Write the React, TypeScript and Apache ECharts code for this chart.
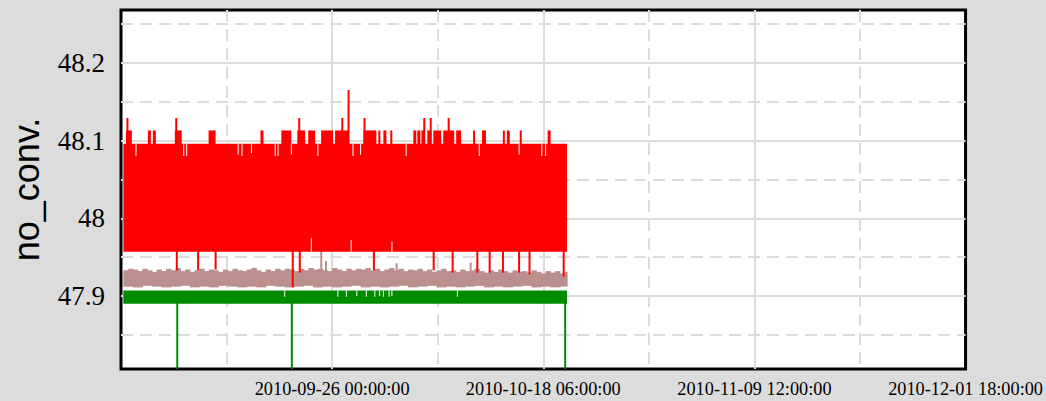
import React, { useEffect, useRef } from "react";
import * as echarts from "echarts";

const DAY = 86400000;
// time axis (UTC)
const xMin = Date.UTC(2010, 8, 3, 18, 0, 0);
const xMax = Date.UTC(2010, 11, 1, 18, 0, 0);
const xInterval = 22.25 * DAY;
const yMin = 47.806;
const yMax = 48.268;

// data start, offsets below are in days from this moment
const dataStart = Date.UTC(2010, 8, 4, 0, 0, 0);
const dataEndDay = 46.75;

// red series envelope
const redRange = [47.957, 48.096];
// [startDay, endDay, value] plateaus above the envelope
const redUpSteps: [number, number, number][] = [
  [0.27, 0.9, 48.113], [2.58, 2.9, 48.113], [3.11, 3.42, 48.113], [5.42, 6.15, 48.113],
  [8.98, 9.72, 48.113], [14.45, 14.76, 48.113], [16.65, 17.7, 48.113], [18.33, 19.16, 48.113],
  [19.48, 20.21, 48.113], [20.84, 22.1, 48.113], [22.31, 23.68, 48.113], [25.3, 26.66, 48.113],
  [26.87, 27.08, 48.113], [27.4, 27.72, 48.113], [28.13, 28.34, 48.113], [30.56, 30.87, 48.113],
  [30.98, 31.3, 48.113], [31.41, 31.72, 48.113], [32.03, 32.45, 48.113], [32.66, 33.5, 48.113],
  [33.71, 34.86, 48.113], [35.07, 35.59, 48.113], [36.85, 37.06, 48.113], [37.79, 38.21, 48.113],
  [39.99, 40.2, 48.113], [40.41, 40.72, 48.113], [41.77, 41.98, 48.113], [44.71, 45.02, 48.113],
];
// [day, value] single upward spikes
const redUpSpikes: [number, number][] = [
  [0.43, 48.129], [5.57, 48.129], [18.53, 48.129], [23.07, 48.129], [23.73, 48.165],
  [25.41, 48.129], [31.71, 48.129], [32.39, 48.129], [34.28, 48.129],
];
// [day, value] single downward spikes
const redDownSpikes: [number, number][] = [
  [5.63, 47.933], [7.88, 47.933], [9.72, 47.934], [17.85, 47.911], [18.59, 47.93],
  [26.4, 47.933], [32.7, 47.933], [34.7, 47.93], [37.3, 47.93], [38.6, 47.93],
  [40.0, 47.93], [41.7, 47.93], [42.8, 47.928], [46.4, 47.925],
];
// [day, value] places where the red top stays lower
const redTopDips: [number, number][] = [
  [1.33, 48.08], [6.36, 48.08], [6.67, 48.08], [12.1, 48.082], [12.5, 48.08], [13.5, 48.084],
  [16.0, 48.08], [16.3, 48.08], [17.7, 48.082], [20.5, 48.08], [24.2, 48.08], [25.0, 48.082],
  [29.8, 48.08], [37.5, 48.08], [41.7, 48.082], [44.1, 48.08], [44.5, 48.08],
];
// [day, value] places where the red bottom stays higher
const redBottomDips: [number, number][] = [[19.8, 47.975], [24.0, 47.972], [28.3, 47.97]];

// brown series: top edge every half day, bottom edge every day
const brownTop = [
  47.933, 47.935, 47.934, 47.932, 47.935, 47.933, 47.931, 47.934, 47.932, 47.935,
  47.933, 47.936, 47.932, 47.934, 47.931, 47.933, 47.935, 47.932, 47.934, 47.933,
  47.931, 47.934, 47.932, 47.935, 47.933, 47.932, 47.934, 47.936, 47.933, 47.931,
  47.934, 47.932, 47.935, 47.933, 47.935, 47.934, 47.932, 47.935, 47.933, 47.936,
  47.934, 47.935, 47.933, 47.932, 47.936, 47.934, 47.932, 47.935, 47.933, 47.935,
  47.934, 47.936, 47.933, 47.935, 47.932, 47.934, 47.936, 47.933, 47.935, 47.932,
  47.934, 47.933, 47.935, 47.932, 47.934, 47.931, 47.933, 47.935, 47.932, 47.933,
  47.931, 47.934, 47.932, 47.933, 47.935, 47.932, 47.930, 47.933, 47.931, 47.934,
  47.932, 47.930, 47.933, 47.931, 47.932, 47.930, 47.933, 47.931, 47.929, 47.932,
  47.930, 47.932, 47.929, 47.931,
];
const brownBottom = [
  47.912, 47.911, 47.913, 47.912, 47.911, 47.912, 47.913, 47.911, 47.912, 47.911,
  47.913, 47.912, 47.911, 47.912, 47.911, 47.913, 47.912, 47.911, 47.912, 47.913,
  47.911, 47.912, 47.911, 47.912, 47.913, 47.911, 47.912, 47.911, 47.912, 47.913,
  47.911, 47.912, 47.913, 47.911, 47.912, 47.911, 47.912, 47.913, 47.911, 47.912,
  47.911, 47.912, 47.913, 47.911, 47.912, 47.911, 47.912,
];
const brownUpSpikes: [number, number][] = [
  [20.85, 47.96], [21.35, 47.945], [28.8, 47.942], [36.6, 47.943],
];

// green series envelope
const greenRange = [47.89, 47.907];
const greenDownSpikes: [number, number][] = [[5.68, 47.7], [17.75, 47.7], [46.56, 47.7]];
const greenTopDips: [number, number][] = [
  [17.0, 47.899], [22.6, 47.899], [23.5, 47.899], [24.6, 47.9], [25.6, 47.899],
  [26.5, 47.899], [27.0, 47.9], [27.4, 47.899], [28.0, 47.899], [28.3, 47.9], [35.2, 47.899],
];

const BG = "#dcdcdc";
const GRIDC = "#dcdcdc";
const RED = "#ff0000";
const BROWN = "#bc8f8f";
const GREEN = "#008b00";
const SERIF = "'Liberation Serif', 'Times New Roman', serif";
const SANS = "'Liberation Sans', Arial, sans-serif";

const t = (d: number) => dataStart + d * DAY;
const pad2 = (n: number) => (n < 10 ? "0" + n : "" + n);
const fmtDate = (v: number) => {
  const d = new Date(v);
  return (
    d.getUTCFullYear() + "-" + pad2(d.getUTCMonth() + 1) + "-" + pad2(d.getUTCDate()) + " " +
    pad2(d.getUTCHours()) + ":" + pad2(d.getUTCMinutes()) + ":" + pad2(d.getUTCSeconds())
  );
};

const makeRender = (color: string, minW: number, extra: number) => (params: any, api: any) => {
  const a = api.coord([api.value(0), api.value(3)]);
  const b = api.coord([api.value(1), api.value(2)]);
  const cs = params.coordSys;
  let x0 = Math.min(a[0], b[0]);
  let x1 = Math.max(a[0], b[0]) + extra;
  if (x1 - x0 < minW) {
    const c = (x0 + x1) / 2;
    x0 = c - minW / 2;
    x1 = c + minW / 2;
  }
  const y0 = Math.max(Math.min(a[1], b[1]), cs.y);
  const y1 = Math.min(Math.max(a[1], b[1]), cs.y + cs.height);
  return {
    type: "rect",
    shape: { x: x0, y: y0, width: x1 - x0, height: Math.max(0, y1 - y0) },
    style: { fill: color },
  };
};

const custom = (data: number[][], color: string, minW: number, extra = 0) => ({
  type: "custom",
  renderItem: makeRender(color, minW, extra),
  encode: { x: [0, 1], y: [2, 3] },
  data,
  silent: true,
});

export default function App() {
  const ref = useRef<HTMLDivElement>(null);
  useEffect(() => {
    if (!ref.current) return;
    const chart = echarts.init(ref.current, undefined, { renderer: "svg" });

    const redBand = [[t(0), t(dataEndDay), redRange[0], redRange[1]]];
    const redSteps = redUpSteps.map(([a, b, v]) => [t(a), t(b), redRange[1] - 0.002, v]);
    const redUp = redUpSpikes.map(([d, v]) => [t(d), t(d), redRange[1] - 0.002, v]);
    const redDown = redDownSpikes.map(([d, v]) => [t(d), t(d), v, redRange[0] + 0.002]);
    const redTopW = redTopDips.map(([d, v]) => [t(d), t(d), v, redRange[1]]);
    const redBotW = redBottomDips.map(([d, v]) => [t(d), t(d), redRange[0], v]);
    const brownBins = brownTop.map((v, i) => [
      t(i * 0.5),
      t(Math.min((i + 1) * 0.5, dataEndDay)),
      brownBottom[Math.min(Math.floor(i / 2), brownBottom.length - 1)],
      v,
    ]);
    const brownUp = brownUpSpikes.map(([d, v]) => [t(d), t(d), 47.925, v]);
    const greenBand = [[t(0), t(dataEndDay), greenRange[0], greenRange[1]]];
    const greenDown = greenDownSpikes.map(([d, v]) => [t(d), t(d), v, greenRange[0] + 0.002]);
    const greenW = greenTopDips.map(([d, v]) => [t(d), t(d), v, greenRange[1]]);

    const gridLine = {
      show: true,
      showMinLine: false,
      showMaxLine: false,
      lineStyle: { color: GRIDC, width: 2, type: "solid" },
    };
    const minorLine = { show: true, lineStyle: { color: GRIDC, width: 2, type: [12, 7] } };

    chart.setOption({
      animation: false,
      backgroundColor: BG,
      grid: {
        left: 119, right: 79, top: 10, bottom: 32,
        show: true, backgroundColor: "#ffffff", borderColor: "#000000", borderWidth: 3,
      },
      xAxis: {
        type: "value",
        min: xMin,
        max: xMax,
        interval: xInterval,
        axisLine: { show: false },
        axisTick: { show: false },
        minorTick: { show: false, splitNumber: 2 },
        splitLine: gridLine,
        minorSplitLine: minorLine,
        axisLabel: {
          showMinLabel: false,
          formatter: (v: number) => fmtDate(v),
          color: "#000",
          fontFamily: SERIF,
          fontSize: 18.3,
          margin: 11,
        },
      },
      yAxis: {
        type: "value",
        min: yMin,
        max: yMax,
        name: "no_conv.",
        nameLocation: "middle",
        nameGap: 77,
        nameTextStyle: { color: "#000", fontFamily: SANS, fontSize: 36 },
        axisLine: { show: false },
        axisTick: { show: false },
        minorTick: { show: false, splitNumber: 2 },
        splitLine: gridLine,
        minorSplitLine: minorLine,
        axisLabel: {
          showMinLabel: false,
          showMaxLabel: false,
          formatter: (v: number) => String(Math.round(v * 1000) / 1000),
          color: "#000",
          fontFamily: SERIF,
          fontSize: 27,
          margin: 16,
        },
      },
      series: [
        custom(brownBins, BROWN, 1, 0.6),
        custom(brownUp, BROWN, 2),
        custom(greenBand, GREEN, 1),
        custom(greenDown, GREEN, 2),
        custom(redBand, RED, 1),
        custom(redSteps, RED, 2),
        custom(redUp, RED, 2),
        custom(redDown, RED, 2),
        custom(redTopW, "#ffffff", 1),
        custom(redBotW, "#ffffff", 1),
        custom(greenW, "#ffffff", 1),
      ],
    });
    return () => chart.dispose();
  }, []);
  return (
    <div
      ref={ref}
      style={{ position: "fixed", left: 0, top: 0, width: 1046, height: 401 }}
    />
  );
}
